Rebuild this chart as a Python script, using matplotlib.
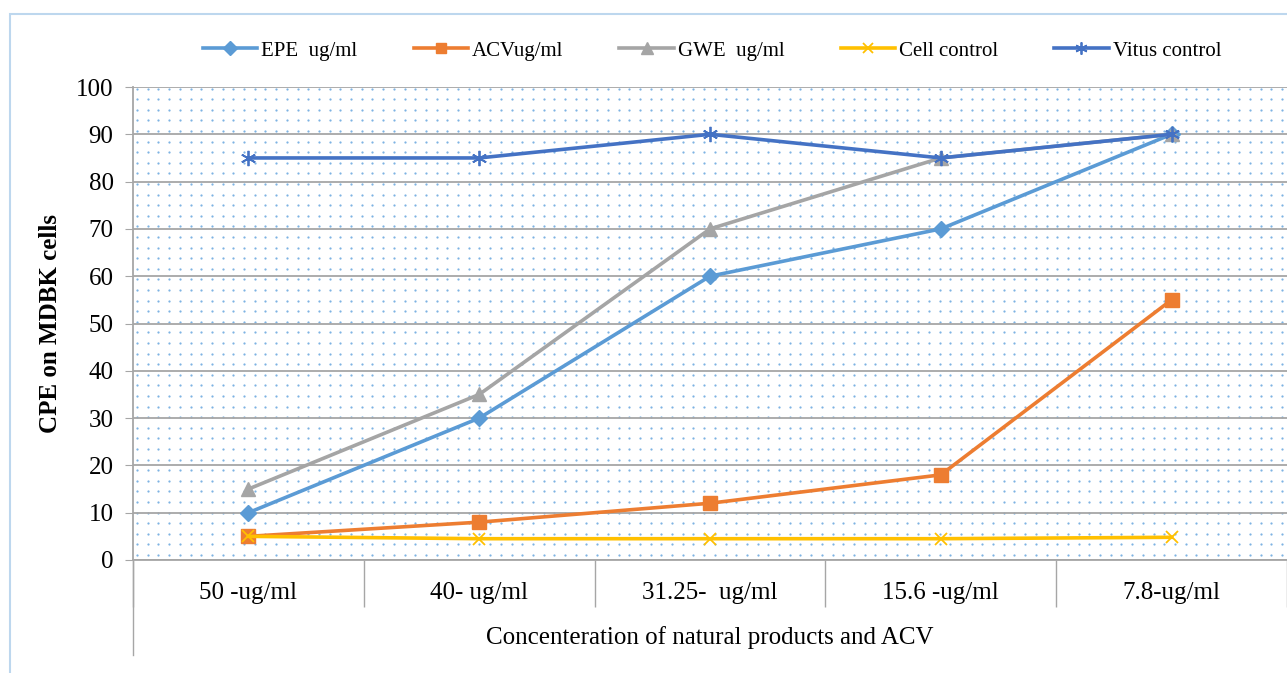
import numpy as np
import matplotlib.pyplot as plt
from matplotlib.patches import Rectangle

plt.rcParams['font.family'] = ['Liberation Serif', 'DejaVu Serif']

categories = ['50 -ug/ml', '40- ug/ml', '31.25-  ug/ml', '15.6 -ug/ml', '7.8-ug/ml']
epe = [10, 30, 60, 70, 90]
acv = [5, 8, 12, 18, 55]
gwe = [15, 35, 70, 85, 90]
cell_control = [5, 4.5, 4.5, 4.5, 4.8]
vitus_control = [85, 85, 90, 85, 90]

series = [
    ('EPE  ug/ml', epe, '#5B9BD5', 'D', 8.5),
    ('ACVug/ml', acv, '#ED7D31', 's', 9.5),
    ('GWE  ug/ml', gwe, '#A5A5A5', '^', 10),
    ('Cell control', cell_control, '#FFC000', 'x', 9),
    ('Vitus control', vitus_control, '#4472C4', (6, 2, 0), 11),
]

W, H = 1287, 673
fig = plt.figure(figsize=(W / 100, H / 100), dpi=100)
ax = fig.add_axes([133 / W, 1 - 560 / H, 1 - 133 / W, (560 - 87) / H])

# dotted plot-area fill
ax_w, ax_h = W - 133, 560 - 87
gx = np.arange(4, ax_w, 10.7) / ax_w
gy = np.arange(5, ax_h, 10.6) / ax_h
mx, my = np.meshgrid(gx, gy)
ax.scatter(mx.ravel(), my.ravel(), s=2.6, color='#7DB3E3', linewidths=0,
           transform=ax.transAxes, zorder=0.1)

x = np.arange(len(categories)) + 0.5
for name, vals, col, mk, ms in series:
    thin = mk == 'x' or isinstance(mk, tuple)
    ax.plot(x, vals, color=col, lw=2.6, marker=mk, markersize=ms,
            markeredgewidth=1.3 if thin else 1, markeredgecolor=col,
            markerfacecolor=col, label=name, zorder=3, clip_on=False)

ax.set_xlim(0, len(categories))
ax.set_ylim(0, 100)
ax.set_yticks(np.arange(0, 101, 10))
ax.tick_params(axis='y', labelsize=18, length=6, color='#A6A6A6', pad=8)
ax.grid(axis='y', color='#A6A6A6', lw=1.3)
ax.set_axisbelow(True)

ax.set_xticks(np.arange(len(categories) + 1))
ax.set_xticklabels([])
ax.tick_params(axis='x', which='major', length=34, color='#A6A6A6', width=1)
ax.set_xticks(x, minor=True)
ax.set_xticklabels(categories, minor=True)
ax.tick_params(axis='x', which='minor', length=0, labelsize=18, pad=16)

for s in ['top', 'right']:
    ax.spines[s].set_visible(False)
for s in ['left', 'bottom']:
    ax.spines[s].set_color('#A6A6A6')
    ax.spines[s].set_linewidth(1.3)
ax.plot([0, 0], [0, -95 / ax_h], transform=ax.transAxes, color='#A6A6A6',
        lw=1, clip_on=False)

ax.set_ylabel('CPE on MDBK cells', fontsize=18, fontweight='bold', labelpad=10)
fig.text(710 / W, 1 - 638 / H, 'Concenteration of natural products and ACV',
         ha='center', va='center', fontsize=18)

leg = fig.legend(loc='center', bbox_to_anchor=(712 / W, 1 - 51 / H), ncol=5,
                 frameon=False, fontsize=15, handlelength=2.6,
                 handletextpad=0.2, columnspacing=2.7, markerscale=0.8)

fig.patches.append(Rectangle((10 / W, -0.05), 1.1, 1.05 - 14 / H,
                             transform=fig.transFigure, fill=False,
                             edgecolor='#BDD7EE', lw=1.5))

fig.savefig('out.png', dpi=100, facecolor='w')
